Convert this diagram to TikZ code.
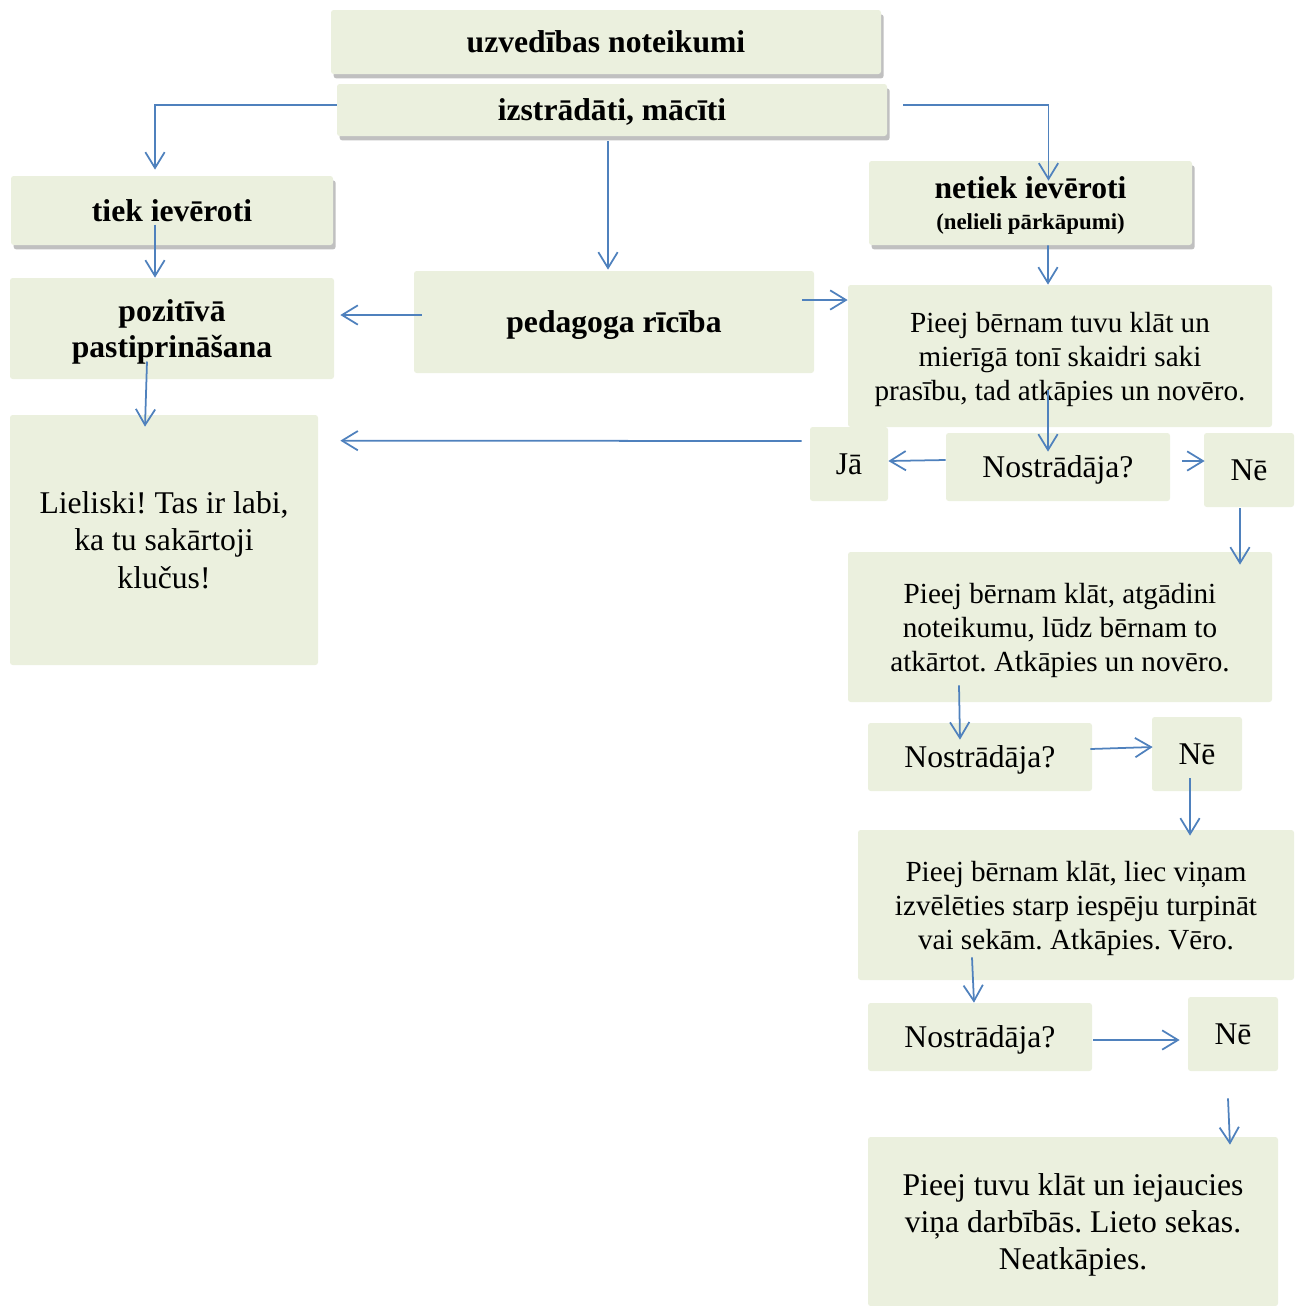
\documentclass[tikz,border=0pt]{standalone}
\usepackage{fontspec}
\setmainfont{Liberation Serif}
\usetikzlibrary{arrows.meta}
\usetikzlibrary{shadows}
\usetikzlibrary{calc}
\frenchspacing

\definecolor{boxfill}{RGB}{235,240,222}
\definecolor{arrowblue}{RGB}{79,129,189}

\tikzset{
	wh/.style 2 args={minimum width=#1*0.02cm, minimum height=#2*0.02cm},
	box/.style={fill=boxfill, rounded corners=1.5pt, align=center, inner sep=1pt, text depth=0pt,
		font=\fontsize{16.6}{19.3}\selectfont},
	big/.style={box, font=\fontsize{18}{21.3}\selectfont},
	title/.style={box, font=\bfseries\fontsize{18}{20.5}\selectfont},
	shade/.style={drop shadow={shadow xshift=1.5pt, shadow yshift=-2.5pt, fill=black!45, opacity=0.55}},
	arr/.style={draw=arrowblue, line width=1pt, -{Straight Barb[length=9pt,width=11pt]}},
}

\begin{document}
\begin{tikzpicture}[x=0.02cm, y=-0.02cm]
\useasboundingbox (0,0) rectangle (1296,1306);

	% headings
\path
	(606,42) node[title, shade, wh={550}{64}] (rules) {uzvedības noteikumi}
	(612,110) node[title, shade, wh={550}{52}] (made) {izstrādāti, mācīti}
	(172,210.5) node[title, shade, wh={322}{69}] (kept) {tiek ievēroti}
	(1030.5,203) node[title, shade, wh={323}{84}] (broken) {netiek ievēroti\\[-3pt]{\fontsize{13}{15}\selectfont (nelieli pārkāpumi)}}
	(172,328.5) node[title, wh={324}{101}] (praise) {pozitīvā\\pastiprināšana}
	(614,322) node[title, wh={400}{102}] (teacher) {pedagoga rīcība}
	;

	% left branch
\path
	(164,540) node[big, wh={308}{250}] (great) {Lieliski! Tas ir labi,\\ka tu sakārtoji\\klučus!}
	;

	% right branch
\path
	(1060,356) node[box, wh={424}{142}] (stepA) {Pieej bērnam tuvu klāt un\\mierīgā tonī skaidri saki\\prasību, tad atkāpies un novēro.}
	(849,464) node[big, wh={78}{74}] (yes) {Jā}
	(1058,467) node[big, wh={224}{68}] (didA) {Nostrādāja?}
	(1249,470) node[big, wh={90}{74}] (noA) {Nē}
	(1060,627) node[box, wh={424}{150}] (stepB) {Pieej bērnam klāt, atgādini\\noteikumu, lūdz bērnam to\\atkārtot. Atkāpies un novēro.}
	(980,757) node[big, wh={224}{68}] (didB) {Nostrādāja?}
	(1197,754) node[big, wh={90}{74}] (noB) {Nē}
	(1076,905) node[box, wh={436}{150}] (stepC) {Pieej bērnam klāt, liec viņam\\izvēlēties starp iespēju turpināt\\vai sekām. Atkāpies. Vēro.}
	(980,1037) node[big, wh={224}{68}] (didC) {Nostrādāja?}
	(1233,1034) node[big, wh={90}{74}] (noC) {Nē}
	(1073,1221.5) node[big, wh={410}{169}] (stepD) {Pieej tuvu klāt un iejaucies\\viņa darbībās. Lieto sekas.\\Neatkāpies.}
	;

	% arrows
\draw[arr] ($(made.west)+(0,-5)$) -| ($(kept.north)+(-17,-6)$);
\draw[arr] ($(made.east)+(16,-5)$) -| ($(broken.north)+(18,20)$);
\draw[arr] ($(made.south)+(-4,5)$) -- ($(made.south |- teacher.north)+(-4,-1)$);
\draw[arr] ($(kept.center)+(-17,14)$) -- ($(praise.north)+(-17,0)$);
\draw[arr] ($(praise.center)+(-25,33)$) -- ($(great.north)+(-19,12)$);
\draw[arr] ($(teacher.west)+(8,-7)$) -- ($(praise.east)+(6,-13.5)$);
\draw[arr] ($(teacher.east)+(-12,-22)$) -- ($(stepA.west)+(0,-56)$);
\draw[arr] ($(broken.south)+(17.5,0)$) -- ($(stepA.north)+(-12,0)$);
\draw[arr] ($(stepA.center)+(-12,34)$) -- ($(didA.north)+(-10,19)$);
\draw[arr] ($(didA.west)+(0,-7)$) -- ($(yes.east)+(0,-3)$);
\draw[arr] ($(didA.east)+(12,-6)$) -- ($(noA.west)+(1,-9)$);
\draw[arr] ($(yes.west)+(-8,-23)$) -- ($(great.north east)+(22,26)$);
\draw[arr] ($(noA.south)+(-9,1)$) -- ($(stepB.north)+(180,13)$);
\draw[arr] ($(stepB.south)+(-101,-17)$) -- ($(didB.north)+(-20,17)$);
\draw[arr] ($(didB.east)+(-2,-8)$) -- ($(noB.west)+(1,-7)$);
\draw[arr] ($(noB.south)+(-7,-13)$) -- ($(stepC.north)+(114,6)$);
\draw[arr] ($(stepC.south)+(-104,-23)$) -- ($(didC.north)+(-6,0)$);
\draw[arr] ($(didC.east)+(1,3)$) -- ($(noC.west)+(-8,6)$);
\draw[arr] ($(noC.south)+(-5,27)$) -- ($(stepD.north)+(157,8)$);
\end{tikzpicture}
\end{document}
